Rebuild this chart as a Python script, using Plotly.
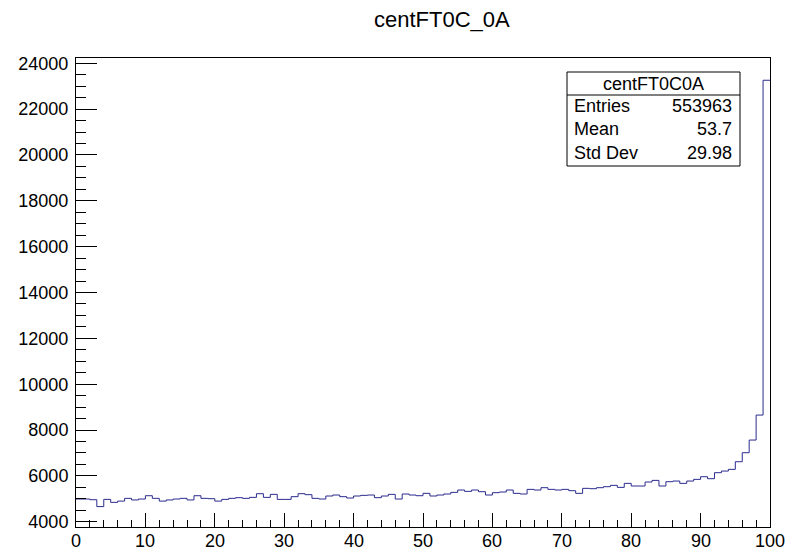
import plotly.graph_objects as go

# ---- data ----
bin_edges = list(range(0, 101))
counts = [
    4990, 4990, 4960, 4660, 4975, 4845, 4900, 5020, 4950, 4990,
    5135, 5020, 4900, 4950, 4990, 5020, 4950, 5135, 5020, 5005,
    4900, 4975, 5020, 5050, 5020, 5063, 5223, 5063, 5194, 4975,
    4975, 5093, 5223, 5180, 5020, 4990, 5122, 5165, 5093, 5035,
    5122, 5150, 5165, 5050, 5122, 5194, 4990, 5209, 5165, 5135,
    5238, 5122, 5165, 5209, 5281, 5383, 5325, 5383, 5310, 5165,
    5267, 5296, 5383, 5238, 5209, 5412, 5383, 5485, 5412, 5383,
    5412, 5354, 5238, 5456, 5441, 5485, 5528, 5587, 5499, 5674,
    5558, 5558, 5732, 5804, 5558, 5746, 5775, 5674, 5775, 5848,
    5964, 5877, 6139, 6211, 6284, 6618, 7011, 7563, 8653, 23259,
]
title_text = "centFT0C_0A"
stats_name = "centFT0C0A"
stats_labels = ["Entries", "Mean", "Std Dev"]
stats_values = ["553963", "53.7", "29.98"]
x_ticks = [0, 10, 20, 30, 40, 50, 60, 70, 80, 90, 100]
y_ticks = [4000, 6000, 8000, 10000, 12000, 14000, 16000, 18000, 20000, 22000, 24000]

W, H = 804, 553
L, R, T, B = 76, 770, 58, 527
FONT = "Liberation Sans, Arial, Helvetica, sans-serif"
LINE = "#2b2b8f"

def px(x):
    return (x - L) / (R - L)

def py(y):
    return (B - y) / (B - T)

fig = go.Figure()
fig.add_trace(go.Scatter(
    x=bin_edges,
    y=counts + [counts[-1]],
    mode="lines",
    line=dict(color=LINE, width=1, shape="hv"),
    hoverinfo="skip",
    showlegend=False,
))

fig.update_xaxes(
    range=[0, 100], tickvals=x_ticks, showticklabels=False,
    ticks="inside", ticklen=14, tickwidth=1, tickcolor="black",
    minor=dict(ticks="inside", ticklen=7, dtick=2, tickcolor="black", tickwidth=1),
    showline=True, linecolor="black", linewidth=1, mirror=True,
    showgrid=False, zeroline=False, automargin=False,
)
fig.update_yaxes(
    range=[3770, 24230], tickvals=y_ticks, ticktext=[str(v) for v in y_ticks],
    ticks="inside", ticklen=21, tickwidth=1, tickcolor="black",
    minor=dict(ticks="inside", ticklen=10, dtick=500, tickcolor="black", tickwidth=1),
    showline=True, linecolor="black", linewidth=1, mirror=True,
    showgrid=False, zeroline=False, ticklabelstandoff=3, automargin=False,
    tickfont=dict(family=FONT, size=18, color="black"),
)

shapes = []
annotations = []
# x tick labels
for v in x_ticks:
    annotations.append(dict(text=str(v), xref="x", yref="paper", x=v, y=py(541),
                            xanchor="center", yanchor="middle", showarrow=False,
                            font=dict(family=FONT, size=18, color="black")))
# stats box
bx0, bx1, by0, by1, bsep = 567, 740, 72, 166, 95
shapes.append(dict(type="rect", xref="paper", yref="paper",
                   x0=px(bx0), x1=px(bx1), y0=py(by1), y1=py(by0),
                   line=dict(color="black", width=1), fillcolor="white"))
shapes.append(dict(type="line", xref="paper", yref="paper",
                   x0=px(bx0), x1=px(bx1), y0=py(bsep), y1=py(bsep),
                   line=dict(color="black", width=1)))
annotations.append(dict(text=stats_name, xref="paper", yref="paper",
                        x=px((bx0 + bx1) / 2), y=py(84), xanchor="center", yanchor="middle",
                        showarrow=False, font=dict(family=FONT, size=18, color="black")))
row_y = [106, 129, 153]
for lab, val, ry in zip(stats_labels, stats_values, row_y):
    annotations.append(dict(text=lab, xref="paper", yref="paper",
                            x=px(bx0 + 5), y=py(ry), xanchor="left", yanchor="middle",
                            showarrow=False, font=dict(family=FONT, size=18, color="black")))
    annotations.append(dict(text=val, xref="paper", yref="paper",
                            x=px(bx1 - 6), y=py(ry), xanchor="right", yanchor="middle",
                            showarrow=False, font=dict(family=FONT, size=18, color="black")))
# title
annotations.append(dict(text=title_text, xref="paper", yref="paper",
                        x=px(442), y=py(19), xanchor="center", yanchor="middle",
                        showarrow=False, font=dict(family=FONT, size=22, color="black")))

fig.update_layout(
    width=W, height=H,
    margin=dict(l=L, r=W - R, t=T, b=H - B, pad=0),
    paper_bgcolor="white", plot_bgcolor="white",
    shapes=shapes, annotations=annotations,
)

fig.write_html("out.html")
